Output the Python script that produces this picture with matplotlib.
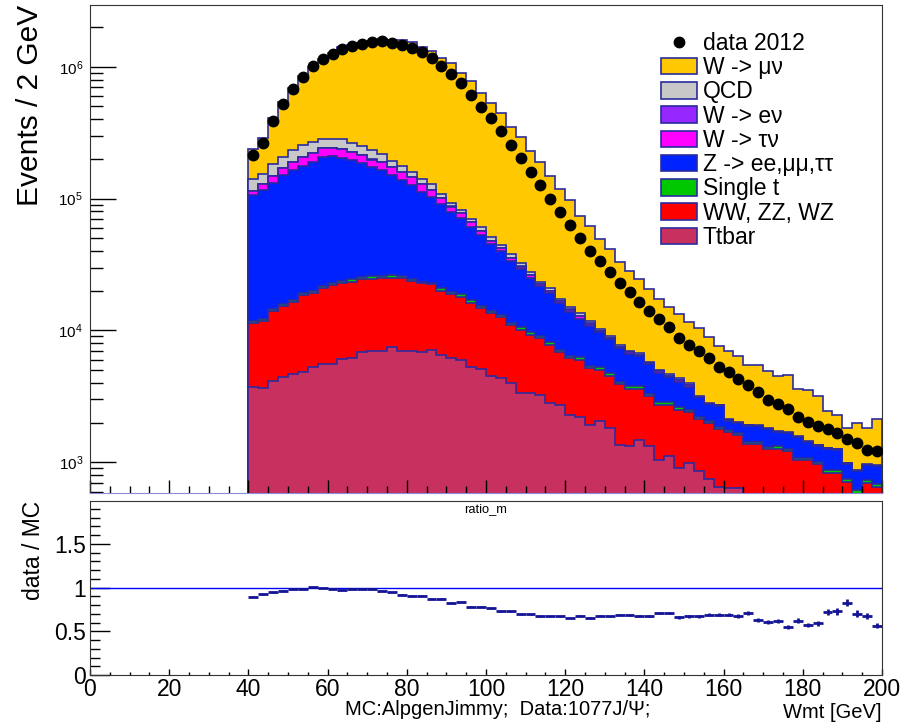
#!/usr/bin/env python3
import numpy as np
import matplotlib
matplotlib.use('Agg')
import matplotlib.pyplot as plt
from matplotlib.patches import Patch
from matplotlib.lines import Line2D
from matplotlib.ticker import MultipleLocator, LogLocator, FuncFormatter

plt.rcParams['font.family'] = ['Liberation Sans', 'DejaVu Sans']
plt.rcParams['mathtext.fontset'] = 'custom'
plt.rcParams['mathtext.rm'] = 'Liberation Sans'
plt.rcParams['mathtext.it'] = 'Liberation Sans:italic'

# Wmt binning: 2.5 GeV bins from 40 to 200 GeV
edges = np.arange(40, 200.1, 2.5)

data_2012 = np.array([
    214000, 265000, 388000, 522000, 678000, 836000, 1010000, 1140000, 1260000, 1370000,
    1440000, 1490000, 1530000, 1560000, 1520000, 1460000, 1390000, 1290000, 1160000, 1010000,
    880000, 748000, 610000, 498000, 407000, 326000, 254000, 204000, 159000, 127000,
    98800, 78800, 63100, 50000, 40400, 33400, 27600, 23000, 19500, 16500,
    14000, 12200, 10600, 8810, 7760, 7030, 6180, 5260, 4820, 4290,
    3860, 3420, 2970, 2790, 2530, 2220, 2010, 1890, 1780, 1670,
    1510, 1400, 1230, 1210])

ttbar = np.array([
    3750, 3650, 4140, 4470, 4660, 4820, 5320, 5570, 5570, 6050,
    6160, 6900, 7030, 7030, 7540, 6990, 6990, 6870, 7120, 6520,
    6220, 5980, 5250, 5080, 4520, 4390, 3980, 3340, 3340, 3250,
    2800, 2720, 2290, 2220, 1920, 2040, 1810, 1360, 1330, 1480,
    1330, 1040, 1120, 900, 995, 865, 745, 648, 636, 636,
    520, 480, 430, 400, 360, 330, 300, 270, 250, 230,
    200, 180, 170, 150])

diboson = np.array([
    7580, 8150, 9920, 10880, 11870, 13760, 14040, 15530, 16560, 16970,
    17280, 17550, 17540, 17850, 17600, 17890, 16870, 15950, 15280, 13520,
    12700, 11880, 11000, 9740, 9070, 8270, 6960, 6800, 5950, 5520,
    5000, 4110, 3890, 3790, 3280, 3010, 2730, 2570, 2290, 2140,
    1840, 1700, 1620, 1610, 1415, 1255, 1235, 1132, 1064, 964,
    860, 900, 830, 870, 860, 710, 740, 700, 586, 606,
    514, 380, 530, 505])

single_t = np.array([
    450, 430, 440, 470, 510, 560, 600, 700, 780, 720,
    950, 1000, 1100, 950, 1000, 800, 750, 680, 650, 1100,
    760, 900, 720, 600, 540, 500, 450, 420, 380, 350,
    320, 280, 250, 240, 210, 200, 180, 160, 150, 140,
    130, 110, 110, 100, 95, 80, 75, 70, 65, 60,
    55, 55, 50, 50, 45, 40, 40, 38, 32, 32,
    28, 60, 30, 28])

z_ll = np.array([
    94600, 103900, 117500, 134500, 147800, 158400, 170500, 186100, 187500, 180500,
    171800, 159800, 147000, 139000, 125000, 112700, 102300, 89300, 80300, 69800,
    59000, 52100, 44300, 37560, 31120, 26900, 22440, 18550, 15220, 12740,
    11030, 8980, 7310, 5970, 5410, 4440, 3850, 3240, 2910, 2650,
    2240, 1940, 1570, 1440, 1240, 910, 710, 840, 310, 320,
    460, 435, 475, 370, 390, 470, 345, 325, 395, 378,
    230, 232, 218, 248])

w_taunu = np.array([
    8400, 12200, 16200, 19500, 25000, 29500, 32000, 32500, 32000, 32500,
    30500, 28500, 25000, 24500, 23000, 21000, 18000, 16000, 13000, 10000,
    8200, 6500, 4800, 3400, 2540, 1980, 1800, 1440, 1360, 710,
    880, 530, 640, 570, 470, 260, 230, 190, 150, 135,
    115, 100, 105, 130, 105, 27, 22, 22, 18, 18,
    18, 16, 16, 14, 14, 14, 11, 11, 11, 10,
    9, 8, 8, 8])

w_enu = np.array([
    300, 350, 450, 500, 600, 700, 750, 800, 800, 800,
    750, 700, 650, 600, 550, 500, 450, 400, 350, 300,
    250, 200, 170, 150, 120, 100, 90, 80, 70, 60,
    55, 45, 45, 40, 35, 20, 18, 15, 12, 12,
    10, 9, 9, 10, 8, 5, 4, 4, 3, 3,
    3, 3, 3, 2, 2, 2, 2, 2, 2, 2,
    2, 2, 1, 1])

qcd = np.array([
    25900, 25150, 33350, 37600, 43000, 47000, 46550, 41900, 39900, 45600,
    37950, 36200, 35050, 26900, 18950, 17600, 12750, 10800, 11650, 7200,
    5950, 4400, 3730, 4010, 2980, 2310, 2120, 1690, 1600, 810,
    1025, 605, 745, 660, 535, 290, 262, 225, 168, 153,
    135, 111, 116, 150, 117, 28, 24, 24, 19, 19,
    19, 16, 16, 14, 14, 14, 12, 12, 12, 10,
    9, 8, 8, 8])

w_munu = np.array([
    97600, 133300, 228100, 332500, 454900, 590600, 732200, 864900, 990900, 1118900,
    1196600, 1262400, 1326600, 1405200, 1413400, 1409500, 1372900, 1281000, 1198700, 1047600,
    969900, 818100, 710100, 576300, 483200, 403300, 311100, 262100, 201500, 166200,
    126400, 100300, 81700, 60200, 50200, 39000, 32100, 25500, 21300, 17800,
    15000, 12200, 10300, 9030, 7600, 7340, 6120, 4870, 4860, 4360,
    3520, 3520, 3120, 2780, 2940, 2000, 2060, 1830, 1170, 1030,
    835, 1125, 855, 1190])

# stack order, bottom to top
stack = [ttbar, diboson, single_t, z_ll, w_taunu, w_enu, qcd, w_munu]
colors = ['#c8305f', '#ff0000', '#00c800', '#0022ff', '#ff00ff', '#9628ff', '#c8c8c8', '#ffc800']
labels = ['Ttbar', 'WW, ZZ, WZ', 'Single t', 'Z -> ee,\u03bc\u03bc,\u03c4\u03c4',
          'W -> \u03c4\u03bd', 'W -> e\u03bd', 'QCD', 'W -> \u03bc\u03bd']
line_col = '#2b2b9e'

centers = 0.5 * (edges[1:] + edges[:-1])
cum = np.cumsum(stack, axis=0)
mc_total = cum[-1]
ratio = data_2012 / mc_total
ratio_err = 2 * ratio / np.sqrt(data_2012)

fig = plt.figure(figsize=(9.1, 7.23), dpi=100)
ax = fig.add_axes([0.0989, 0.3181, 0.8703, 0.675])
ax_r = fig.add_axes([0.0989, 0.0664, 0.8703, 0.2407])

# draw cumulative histograms from the top down, like THStack
for k in reversed(range(len(stack))):
    ax.stairs(cum[k], edges, baseline=1, fill=True, color=colors[k], lw=0)
    ax.stairs(cum[k], edges, baseline=1, color=line_col, lw=1.2)

ax.plot(centers, data_2012, 'o', color='black', ms=7.5, zorder=5)

ax.set_xlim(0, 200)
ax.set_yscale('log')
ax.set_ylim(585, 2.94e6)
ax.xaxis.set_major_locator(MultipleLocator(20))
ax.xaxis.set_minor_locator(MultipleLocator(5))
ax.yaxis.set_minor_locator(LogLocator(base=10, subs=np.arange(2, 10)))
ax.tick_params(which='both', direction='in', top=False, right=False)
ax.tick_params(axis='y', which='major', length=19, width=1, labelsize=11, pad=5)
ax.tick_params(axis='y', which='minor', length=9.5, width=1, labelleft=False)
ax.tick_params(axis='x', which='major', length=9.4, width=1, labelbottom=False)
ax.tick_params(axis='x', which='minor', length=5, width=1)
ax.set_ylabel('Events / 2 GeV', fontsize=21.5, loc='top')
ax.yaxis.set_label_coords(-0.058, 1.0)
for sp in ax.spines.values():
    sp.set_color('#333333')
ax.spines['bottom'].set_color('#8c8cd8')

handles = [Line2D([], [], ls='none', marker='o', color='black', ms=7.5)]
leg_labels = ['data 2012']
for k in reversed(range(len(stack))):
    handles.append(Patch(facecolor=colors[k], edgecolor=line_col, lw=1.2))
    leg_labels.append(labels[k])
fig.legend(handles, leg_labels, loc='upper left', bbox_to_anchor=(0.7264, 0.956),
           frameon=False, fontsize=16.5, handlelength=1.57, handleheight=0.74,
           handletextpad=0.26, labelspacing=0.055, borderpad=0, borderaxespad=0)

# ratio panel
ax_r.axhline(1, color='#0000ff', lw=1)
ax_r.errorbar(centers, ratio, xerr=1.25, yerr=ratio_err, fmt='none',
              ecolor='#141496', elinewidth=2, capsize=0)
ax_r.set_xlim(0, 200)
ax_r.set_ylim(0, 1.99)
ax_r.xaxis.set_major_locator(MultipleLocator(20))
ax_r.xaxis.set_minor_locator(MultipleLocator(5))
ax_r.yaxis.set_major_locator(MultipleLocator(0.5))
ax_r.yaxis.set_minor_locator(MultipleLocator(0.1))
ax_r.yaxis.set_major_formatter(FuncFormatter(lambda v, p: '%g' % v))
ax_r.tick_params(which='both', direction='in', top=False, right=False, labelsize=16.5)
ax_r.tick_params(axis='y', which='major', length=14.4, width=1, pad=3)
ax_r.tick_params(axis='y', which='minor', length=7.2, width=1)
ax_r.tick_params(axis='x', which='major', length=4.3, width=1, pad=2.5)
ax_r.tick_params(axis='x', which='minor', length=2.2, width=1)
ax_r.set_ylabel('data / MC', fontsize=16.5, loc='top')
ax_r.yaxis.set_label_coords(-0.057, 1.0)
ax_r.set_xlabel('Wmt [GeV]', fontsize=14.5, loc='right', labelpad=1)
for sp in ax_r.spines.values():
    sp.set_color('#333333')
ax_r.text(0.499, 0.985, 'ratio_m', transform=ax_r.transAxes, ha='center', va='top', fontsize=9.3)
fig.text(0.379, 0.005, 'MC:AlpgenJimmy;  Data:1077J/\u03a8;', fontsize=14.5, va='bottom', ha='left')

fig.savefig('out.png', dpi=100)
